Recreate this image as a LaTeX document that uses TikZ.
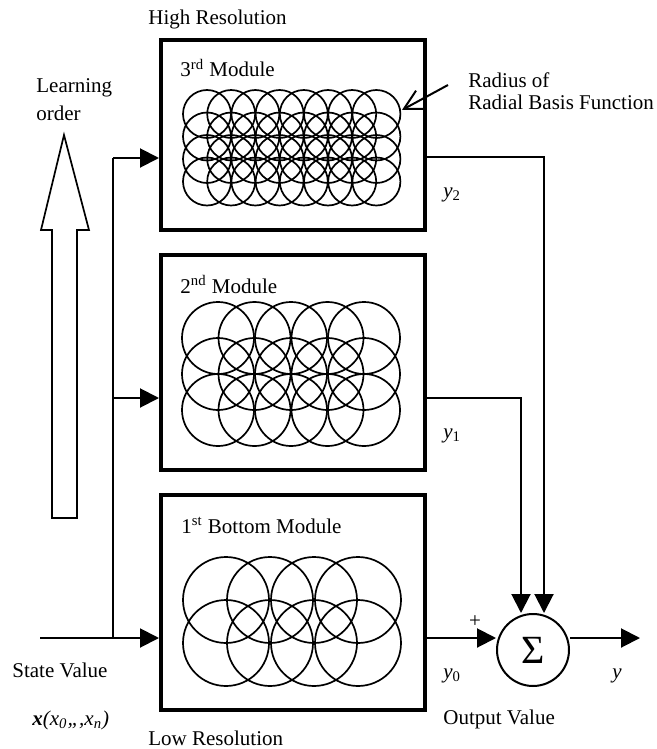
\documentclass[tikz,border=0pt]{standalone}
\usepackage{fontspec}
\setmainfont{Liberation Serif}
\usetikzlibrary{arrows.meta}

\tikzset{
  modbox/.style={draw, line width=2pt, minimum width=132pt, inner sep=0pt},
  rbf/.style={line width=0.85pt},
  wire/.style={line width=1pt},
  flow/.style={line width=1pt, -{Triangle[length=9.5pt, width=9.5pt]}},
  lbl/.style={anchor=base west, inner sep=0pt, font=\fontsize{10.5}{12.6}\selectfont},
}

\begin{document}
\begin{tikzpicture}[x=0.5pt, y=-0.5pt]
\useasboundingbox (0,0) rectangle (657,749);

% modules
\node [modbox, minimum height=95pt] (m3) at (293,135) {};
\node [modbox, minimum height=107.5pt] (m2) at (293,362.5) {};
\node [modbox, minimum height=107.5pt] (m1) at (293,602.5) {};

% radial basis functions
\foreach \i in {0,...,7} \foreach \j in {0,...,3}
  \draw [rbf] (207+24.2*\i, 114+22.5*\j) circle [radius=24];
\foreach \i in {0,...,4} \foreach \j in {0,...,2}
  \draw [rbf] (218+36.5*\i, 338+36*\j) circle [radius=36];
\foreach \i in {0,...,3} \foreach \j in {0,...,1}
  \draw [rbf] (226+44*\i, 600+43*\j) circle [radius=43];

% sum
\node [draw, circle, line width=1pt, minimum size=36pt, inner sep=0pt,
       font=\fontsize{20}{20}\selectfont] (sum) at (533,650) {Σ};

% texts
\node [lbl] (hires) at (148,25) {High Resolution};
\node [lbl] (lores) at (148,745) {Low Resolution};
\node [lbl] (t3) at (180,77) {3\textsuperscript{rd} Module};
\node [lbl] (t2) at (180,293) {2\textsuperscript{nd} Module};
\node [lbl] (t1) at (181,533) {1\textsuperscript{st} Bottom Module};
\node [lbl] (learn) at (36,93) {Learning};
\node [lbl] (order) at (36,120) {order};
\node [lbl] (rad1) at (468,88) {Radius of};
\node [lbl] (rad2) at (468,110) {Radial Basis Function};
\node [lbl] (state) at (12,677) {State Value};
\node [lbl] (xvec) at (32,725)
  {\textbf{\textit{x}}\textit{(x\textsubscript{0},,,x\textsubscript{n})}};
\node [lbl] (y2) at (443,197) {\textit{y}\textsubscript{2}};
\node [lbl] (y1) at (443,438) {\textit{y}\textsubscript{1}};
\node [lbl] (y0) at (443,678) {\textit{y}\textsubscript{0}};
\node [lbl] (yout) at (612,678) {\textit{y}};
\node [lbl] (outval) at (443,724) {Output Value};
\node [inner sep=0pt, font=\fontsize{10.5}{12.6}\selectfont] (plus) at (475,622) {+};

% learning order
\draw [line width=0.85pt] (52,518) -- (52,230) -- (41,230) -- (64,135)
  -- (89,230) -- (77,230) -- (77,518) -- cycle;

% inputs
\coordinate (in) at (40,638);
\coordinate (br) at (113,638);
\coordinate (b2) at (113,398);
\coordinate (b3) at (113,158);
\draw [wire] (in) -- (br) -- (b3);
\draw [flow] (br) -- (br -| m1.west);
\draw [flow] (b2) -- (b2 -| m2.west);
\draw [flow] (b3) -- (b3 -| m3.west);

% outputs
\coordinate (o3) at (544,157);
\coordinate (o2) at (521,398);
\coordinate (o1) at (425,638);
\coordinate (out) at (640,638);
\draw [flow] (o3 -| m3.east) -| (o3 |- sum.north);
\draw [flow] (o2 -| m2.east) -| (o2 |- sum.north);
\draw [flow] (o1 -| m1.east) -- (o1 -| sum.west);
\draw [flow] (o1 -| sum.east) -- (out);

% radius pointer
\coordinate (rtail) at (448,85);
\coordinate (rtip) at (402,110);
\draw [wire, -{Straight Barb[length=9.7pt, width=10.3pt]}] (rtail) -- (rtip);
\end{tikzpicture}
\end{document}
